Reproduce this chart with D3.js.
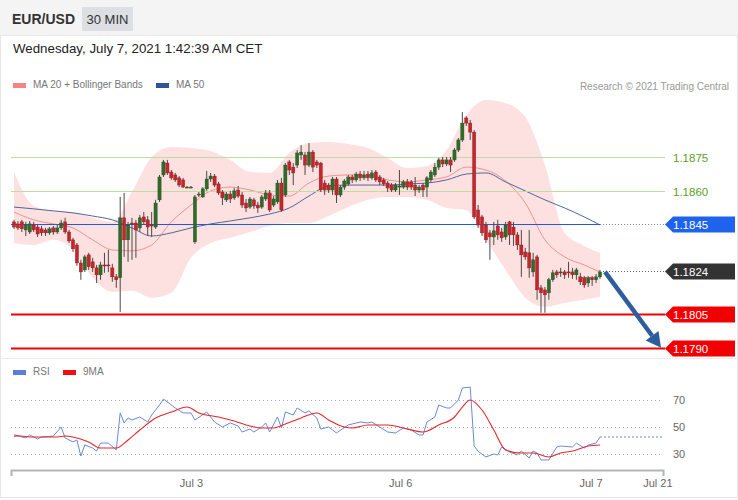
<!DOCTYPE html>
<html>
<head>
<meta charset="utf-8">
<script src="https://cdn.jsdelivr.net/npm/d3@7"></script>
<style>
    body { margin: 0; background: #fff; font-family: "Liberation Sans", Arial, sans-serif; }
    svg text { font-family: "Liberation Sans", Arial, sans-serif; }
</style>
</head>
<body>
<svg id="chart" width="738" height="500"></svg>
<script>
// 30 min candles, EUR/USD
var opens = [1.18461, 1.18452, 1.18461, 1.18425, 1.18416, 1.18447, 1.18438, 1.18430, 1.18425, 1.18412,
    1.18434, 1.18416, 1.18434, 1.18461, 1.18416, 1.18381, 1.18358, 1.18278, 1.18247, 1.18314,
    1.18283, 1.18256, 1.18225, 1.18269, 1.18269, 1.18256, 1.18216, 1.18212, 1.18479, 1.18381,
    1.18456, 1.18456, 1.18434, 1.18483, 1.18470, 1.18447, 1.18438, 1.18559, 1.18670, 1.18723,
    1.18683, 1.18670, 1.18657, 1.18648, 1.18616, 1.18616, 1.18372, 1.18581, 1.18572, 1.18608,
    1.18652, 1.18665, 1.18630, 1.18594, 1.18559, 1.18585, 1.18568, 1.18603, 1.18581, 1.18545,
    1.18527, 1.18559, 1.18536, 1.18527, 1.18563, 1.18590, 1.18536, 1.18550, 1.18634, 1.18581,
    1.18728, 1.18705, 1.18714, 1.18759, 1.18759, 1.18714, 1.18772, 1.18728, 1.18723, 1.18634,
    1.18625, 1.18603, 1.18652, 1.18581, 1.18616, 1.18630, 1.18661, 1.18648, 1.18674, 1.18657,
    1.18674, 1.18657, 1.18683, 1.18661, 1.18648, 1.18634, 1.18625, 1.18603, 1.18616, 1.18616,
    1.18639, 1.18639, 1.18625, 1.18603, 1.18625, 1.18616, 1.18648, 1.18670, 1.18705, 1.18737,
    1.18719, 1.18737, 1.18737, 1.18781, 1.18826, 1.18924, 1.18901, 1.18861, 1.18514, 1.18483,
    1.18447, 1.18412, 1.18394, 1.18443, 1.18416, 1.18394, 1.18461, 1.18438, 1.18403, 1.18358,
    1.18327, 1.18323, 1.18238, 1.18305, 1.18167, 1.18158, 1.18145, 1.18203, 1.18238, 1.18234,
    1.18238, 1.18238, 1.18238, 1.18225, 1.18216, 1.18212, 1.18189, 1.18212, 1.18203, 1.18216]
var highs = [1.18470, 1.18465, 1.18470, 1.18461, 1.18465, 1.18461, 1.18447, 1.18443, 1.18434, 1.18438,
    1.18443, 1.18447, 1.18470, 1.18479, 1.18425, 1.18390, 1.18367, 1.18292, 1.18314, 1.18323,
    1.18301, 1.18269, 1.18283, 1.18323, 1.18336, 1.18274, 1.18229, 1.18572, 1.18590, 1.18461,
    1.18479, 1.18470, 1.18492, 1.18505, 1.18487, 1.18505, 1.18559, 1.18670, 1.18737, 1.18737,
    1.18692, 1.18679, 1.18665, 1.18657, 1.18621, 1.18621, 1.18581, 1.18594, 1.18616, 1.18688,
    1.18679, 1.18674, 1.18639, 1.18603, 1.18594, 1.18599, 1.18612, 1.18621, 1.18594, 1.18563,
    1.18572, 1.18568, 1.18550, 1.18581, 1.18603, 1.18603, 1.18576, 1.18648, 1.18657, 1.18723,
    1.18737, 1.18723, 1.18781, 1.18803, 1.18772, 1.18812, 1.18781, 1.18737, 1.18728, 1.18648,
    1.18634, 1.18661, 1.18661, 1.18625, 1.18652, 1.18670, 1.18670, 1.18683, 1.18688, 1.18688,
    1.18688, 1.18692, 1.18692, 1.18670, 1.18657, 1.18643, 1.18634, 1.18634, 1.18692, 1.18648,
    1.18652, 1.18648, 1.18661, 1.18625, 1.18634, 1.18665, 1.18692, 1.18723, 1.18746, 1.18750,
    1.18750, 1.18750, 1.18790, 1.18835, 1.18950, 1.18932, 1.18915, 1.18870, 1.18536, 1.18492,
    1.18461, 1.18425, 1.18461, 1.18470, 1.18434, 1.18461, 1.18465, 1.18461, 1.18416, 1.18425,
    1.18345, 1.18425, 1.18323, 1.18314, 1.18180, 1.18171, 1.18212, 1.18247, 1.18247, 1.18256,
    1.18247, 1.18283, 1.18256, 1.18256, 1.18234, 1.18220, 1.18220, 1.18220, 1.18229, 1.18247]
var lows = [1.18430, 1.18425, 1.18416, 1.18398, 1.18407, 1.18416, 1.18394, 1.18398, 1.18398, 1.18403,
    1.18403, 1.18407, 1.18425, 1.18407, 1.18367, 1.18327, 1.18265, 1.18203, 1.18238, 1.18247,
    1.18238, 1.18189, 1.18203, 1.18234, 1.18238, 1.18194, 1.18167, 1.18060, 1.18305, 1.18283,
    1.18292, 1.18301, 1.18416, 1.18447, 1.18398, 1.18394, 1.18430, 1.18550, 1.18661, 1.18670,
    1.18648, 1.18639, 1.18616, 1.18612, 1.18612, 1.18612, 1.18363, 1.18572, 1.18568, 1.18599,
    1.18639, 1.18616, 1.18581, 1.18536, 1.18550, 1.18545, 1.18559, 1.18568, 1.18523, 1.18505,
    1.18519, 1.18519, 1.18501, 1.18519, 1.18554, 1.18505, 1.18527, 1.18541, 1.18505, 1.18572,
    1.18670, 1.18625, 1.18701, 1.18737, 1.18670, 1.18705, 1.18683, 1.18701, 1.18594, 1.18581,
    1.18590, 1.18581, 1.18545, 1.18572, 1.18603, 1.18621, 1.18634, 1.18639, 1.18643, 1.18648,
    1.18643, 1.18648, 1.18639, 1.18625, 1.18621, 1.18594, 1.18594, 1.18594, 1.18581, 1.18608,
    1.18603, 1.18603, 1.18576, 1.18590, 1.18572, 1.18572, 1.18639, 1.18661, 1.18692, 1.18705,
    1.18710, 1.18683, 1.18728, 1.18772, 1.18817, 1.18888, 1.18826, 1.18474, 1.18434, 1.18398,
    1.18367, 1.18292, 1.18358, 1.18381, 1.18372, 1.18381, 1.18358, 1.18354, 1.18336, 1.18216,
    1.18292, 1.18212, 1.18216, 1.18114, 1.18056, 1.18056, 1.18114, 1.18194, 1.18212, 1.18216,
    1.18207, 1.18212, 1.18207, 1.18203, 1.18180, 1.18167, 1.18171, 1.18176, 1.18189, 1.18207]
var closes = [1.18438, 1.18434, 1.18430, 1.18447, 1.18452, 1.18425, 1.18407, 1.18412, 1.18412, 1.18430,
    1.18416, 1.18434, 1.18456, 1.18416, 1.18376, 1.18341, 1.18278, 1.18238, 1.18305, 1.18261,
    1.18256, 1.18225, 1.18269, 1.18265, 1.18267, 1.18216, 1.18203, 1.18479, 1.18381, 1.18447,
    1.18452, 1.18425, 1.18479, 1.18461, 1.18438, 1.18443, 1.18545, 1.18661, 1.18728, 1.18679,
    1.18657, 1.18648, 1.18625, 1.18616, 1.18616, 1.18616, 1.18572, 1.18585, 1.18608, 1.18652,
    1.18665, 1.18625, 1.18590, 1.18568, 1.18585, 1.18563, 1.18599, 1.18576, 1.18536, 1.18523,
    1.18563, 1.18532, 1.18523, 1.18572, 1.18590, 1.18514, 1.18563, 1.18634, 1.18514, 1.18714,
    1.18692, 1.18679, 1.18768, 1.18772, 1.18714, 1.18772, 1.18705, 1.18714, 1.18603, 1.18603,
    1.18603, 1.18652, 1.18581, 1.18616, 1.18643, 1.18661, 1.18648, 1.18674, 1.18657, 1.18670,
    1.18657, 1.18679, 1.18648, 1.18639, 1.18630, 1.18612, 1.18603, 1.18625, 1.18621, 1.18639,
    1.18616, 1.18616, 1.18603, 1.18616, 1.18603, 1.18657, 1.18683, 1.18705, 1.18737, 1.18719,
    1.18737, 1.18714, 1.18781, 1.18826, 1.18901, 1.18901, 1.18861, 1.18483, 1.18447, 1.18412,
    1.18381, 1.18394, 1.18421, 1.18403, 1.18390, 1.18447, 1.18403, 1.18403, 1.18358, 1.18314,
    1.18305, 1.18256, 1.18292, 1.18158, 1.18145, 1.18136, 1.18203, 1.18234, 1.18225, 1.18238,
    1.18225, 1.18234, 1.18225, 1.18247, 1.18194, 1.18180, 1.18212, 1.18203, 1.18216, 1.18238]

var bandAt = [0, 5, 10, 15, 20, 25, 30, 35, 40, 45, 50, 55, 60, 65, 70, 75, 80, 85, 90, 95,
    100, 105, 110, 115, 120, 125, 130, 135, 140, 145, 149]
var upperBand = [1.18683, 1.18532, 1.18510, 1.18505, 1.18479, 1.18461, 1.18594, 1.18750, 1.18795, 1.18790,
    1.18777, 1.18737, 1.18683, 1.18679, 1.18768, 1.18812, 1.18817, 1.18808, 1.18790, 1.18746,
    1.18701, 1.18710, 1.18781, 1.18937, 1.19004, 1.18990, 1.18928, 1.18714, 1.18412, 1.18354, 1.18323]
var lowerBand = [1.18367, 1.18358, 1.18381, 1.18336, 1.18212, 1.18149, 1.18154, 1.18123, 1.18145, 1.18301,
    1.18367, 1.18390, 1.18416, 1.18443, 1.18456, 1.18456, 1.18487, 1.18527, 1.18559, 1.18572,
    1.18572, 1.18559, 1.18523, 1.18514, 1.18381, 1.18247, 1.18123, 1.18083, 1.18100, 1.18114, 1.18127]
var ma20 = [1.18505, 1.18470, 1.18452, 1.18434, 1.18381, 1.18336, 1.18332, 1.18358, 1.18461, 1.18536,
    1.18599, 1.18616, 1.18603, 1.18581, 1.18576, 1.18634, 1.18665, 1.18670, 1.18670, 1.18648,
    1.18639, 1.18648, 1.18661, 1.18705, 1.18692, 1.18643, 1.18545, 1.18381, 1.18305, 1.18269, 1.18238]
var ma50 = [1.18527, 1.18519, 1.18510, 1.18501, 1.18487, 1.18470, 1.18434, 1.18398, 1.18412, 1.18434,
    1.18452, 1.18465, 1.18479, 1.18496, 1.18523, 1.18576, 1.18621, 1.18625, 1.18625, 1.18625,
    1.18630, 1.18634, 1.18648, 1.18674, 1.18679, 1.18639, 1.18599, 1.18559, 1.18523, 1.18483, 1.18447]

var rsiAt = [0, 1, 3, 4, 6, 7, 10, 12, 13, 15, 16, 17, 18, 20, 21, 22, 24, 26, 27, 28,
    29, 30, 32, 34, 35, 37, 38, 40, 41, 43, 45, 46, 49, 51, 53, 55, 57, 58, 60, 61,
    63, 64, 65, 67, 68, 69, 71, 72, 74, 75, 77, 78, 80, 81, 82, 85, 88, 90, 91, 93,
    95, 97, 99, 101, 103, 104, 105, 107, 108, 110, 111, 113, 114, 116, 117, 118, 120, 122, 123, 124,
    126, 128, 129, 131, 132, 133, 134, 136, 138, 139, 142, 143, 145, 146, 148, 149]
var rsiValues = [42.8, 43.3, 41.9, 44.1, 41.1, 42.6, 43.3, 50, 41.9, 38.9, 40.4, 28.5, 36.7, 34.4, 32.2, 38.1, 38.1, 33, 60.4, 53,
    56.7, 55.2, 57.4, 53.7, 58.9, 66.3, 70.7, 66.3, 64.1, 60.4, 60.4, 55.2, 61.1, 53.7, 50, 53, 50.7, 46.3, 48.5, 46.3,
    50, 53, 46.3, 57.4, 49.3, 61.1, 58.9, 64.1, 60.4, 61.9, 56.7, 48.5, 50, 47.8, 45.6, 51.5, 53.7, 53, 53.7, 50,
    46.3, 45.6, 49.3, 47.8, 44.1, 44.1, 53.7, 57.4, 66.3, 64.1, 64.1, 70, 78.9, 79.6, 36, 32, 27.8, 30, 29.3, 35.2,
    31.5, 29.3, 32.2, 27, 32.2, 30.7, 25.6, 25.6, 35.2, 35.9, 35.2, 38.1, 34.4, 36.7, 38.1, 42.6]
var maAt = [0, 5, 11, 13, 15, 19, 22, 26, 29, 32, 36, 40, 44, 47, 52, 56, 59, 63, 66, 69,
    73, 77, 80, 84, 86, 90, 95, 99, 104, 108, 112, 114, 116, 119, 122, 125, 129, 132, 136, 139,
    142, 146, 149]
var ma9Values = [44.1, 42.6, 42.6, 43.3, 42.6, 38.9, 34.4, 34.4, 40.4, 47.8, 56.7, 61.1, 64.8, 60.4, 57.4, 54.4, 51.5, 49.3, 49.3, 52.2,
    56.7, 60.4, 55.2, 50, 49.3, 51.5, 51.5, 49.3, 46.3, 51.5, 57.4, 64.8, 70, 62.6, 47.8, 33, 30.7, 30.7, 27.8, 30.7,
    32.2, 35.9, 36.7]

var levels = [1.1875, 1.1860, 1.1845, 1.1824, 1.1805, 1.1790]
var levelLabels = ['1.1875', '1.1860', '1.1845', '1.1824', '1.1805', '1.1790']
var rsiTicks = [70, 50, 30]
var xTickAt = [45, 98.2, 146.6, 163.6]
var xTickLabels = ['Jul 3', 'Jul 6', 'Jul 7', 'Jul 21']

var svg = d3.select('#chart')
var x = d3.scaleLinear().domain([0, closes.length - 1]).range([14, 600])
var y = d3.scaleLinear().domain([1.1790, 1.1875]).range([347.8, 157])
var ry = d3.scaleLinear().domain([30, 70]).range([454, 400])
var last = closes.length - 1

// header
svg.append('rect').attr('x', 0).attr('y', 0).attr('width', 738).attr('height', 35).attr('fill', '#f4f4f4')
svg.append('rect').attr('x', 0.5).attr('y', 35.5).attr('width', 737).attr('height', 462)
    .attr('fill', 'none').attr('stroke', '#e6e6e6')
svg.append('line').attr('x1', 0).attr('x2', 738).attr('y1', 358.5).attr('y2', 358.5).attr('stroke', '#ebebeb')
svg.append('text').attr('x', 12).attr('y', 24).attr('font-size', 14).attr('font-weight', 'bold')
    .attr('fill', '#333').text('EUR/USD')
svg.append('rect').attr('x', 82).attr('y', 7).attr('width', 51).attr('height', 24).attr('fill', '#dcdfe4')
svg.append('text').attr('x', 107.5).attr('y', 24).attr('text-anchor', 'middle').attr('font-size', 13)
    .attr('fill', '#333').text('30 MIN')
svg.append('text').attr('x', 13).attr('y', 53).attr('font-size', 13.3).attr('fill', '#222')
    .text('Wednesday, July 7, 2021 1:42:39 AM CET')

function legendItem(lx, ly, color, label) {
    svg.append('rect').attr('x', lx).attr('y', ly - 4).attr('width', 13).attr('height', 5).attr('fill', color)
    svg.append('text').attr('x', lx + 20).attr('y', ly + 1).attr('font-size', 10).attr('fill', '#777').text(label)
}
legendItem(13, 87, '#f58585', 'MA 20 + Bollinger Bands')
legendItem(156, 87, '#2f5597', 'MA 50')
svg.append('text').attr('x', 729).attr('y', 90).attr('text-anchor', 'end').attr('font-size', 10)
    .attr('fill', '#999').text('Research \u00a9 2021 Trading Central')

// bollinger band + moving averages
var band = d3.area()
    .x(function (d, i) { return x(bandAt[i]) })
    .y0(function (d, i) { return y(lowerBand[i]) })
    .y1(function (d, i) { return y(upperBand[i]) })
    .curve(d3.curveMonotoneX)
svg.append('path').datum(bandAt).attr('d', band).attr('fill', '#fde1e1')

function maLine(values) {
    return d3.line()
        .x(function (d, i) { return x(bandAt[i]) })
        .y(function (d) { return y(d) })
        .curve(d3.curveMonotoneX)(values)
}
svg.append('path').attr('d', maLine(ma20)).attr('fill', 'none').attr('stroke', '#f29090').attr('stroke-width', 1)
svg.append('path').attr('d', maLine(ma50)).attr('fill', 'none').attr('stroke', '#50669c').attr('stroke-width', 1)

// level lines
var levelStyle = {
    '1.1875': {line: '#bedda4', w: 1, text: '#5e9e25', tag: null, end: 665},
    '1.1860': {line: '#bedda4', w: 1, text: '#5e9e25', tag: null, end: 665},
    '1.1845': {line: '#2458d8', w: 1, text: '#fff', tag: '#1f62ee', end: x(last)},
    '1.1824': {line: null, w: 1, text: '#fff', tag: '#333', end: x(last) + 3},
    '1.1805': {line: '#f00000', w: 2, text: '#fff', tag: '#f00000', end: 665},
    '1.1790': {line: '#f00000', w: 2, text: '#fff', tag: '#f00000', end: 665}
}
var lv = svg.append('g')
levels.forEach(function (p, i) {
    var st = levelStyle[levelLabels[i]]
    var ly = Math.round(y(p)) + 0.5
    if (st.line) {
        lv.append('line').attr('x1', 11).attr('x2', st.end).attr('y1', ly).attr('y2', ly)
            .attr('stroke', st.line).attr('stroke-width', st.w)
    }
    if (st.end < 665) {
        lv.append('line').attr('x1', st.end).attr('x2', 665).attr('y1', ly).attr('y2', ly)
            .attr('stroke', st.line ? '#6d87c9' : '#666').attr('stroke-dasharray', '1,2')
    }
    if (st.tag) {
        lv.append('path').attr('d', 'M665,' + ly + 'L673,' + (ly - 8) + 'H735V' + (ly + 8) + 'H673Z')
            .attr('fill', st.tag)
    }
    lv.append('text').attr('x', 673).attr('y', ly + 4).attr('font-size', 11.5).attr('fill', st.text)
        .text(levelLabels[i])
})

// candles
var idx = d3.range(closes.length)
var cg = svg.append('g')
cg.selectAll('.wick').data(idx).enter().append('line').attr('class', 'wick')
    .attr('x1', function (i) { return x(i) }).attr('x2', function (i) { return x(i) })
    .attr('y1', function (i) { return y(highs[i]) }).attr('y2', function (i) { return y(lows[i]) })
    .attr('stroke', '#4a4a4a').attr('stroke-width', 1)
cg.selectAll('.body').data(idx).enter().append('rect').attr('class', 'body')
    .attr('x', function (i) { return x(i) - 1.6 })
    .attr('width', 3.2)
    .attr('y', function (i) { return y(Math.max(opens[i], closes[i])) })
    .attr('height', function (i) { return Math.max(1, Math.abs(y(opens[i]) - y(closes[i]))) })
    .attr('fill', function (i) { return closes[i] >= opens[i] ? '#2f6b2a' : '#c4262b' })
    .attr('stroke', function (i) { return closes[i] >= opens[i] ? '#234d1f' : '#8e1c20' })
    .attr('stroke-width', 0.4)

// forecast arrow
var ax0 = x(last) + 5, ay0 = y(closes[last])
var ax1 = 661, ay1 = y(levels[5])
var ang = Math.atan2(ay1 - ay0, ax1 - ax0)
var hx = ax1 - 15 * Math.cos(ang), hy = ay1 - 15 * Math.sin(ang)
svg.append('line').attr('x1', ax0).attr('y1', ay0).attr('x2', hx).attr('y2', hy)
    .attr('stroke', '#2e5d9c').attr('stroke-width', 4.5)
svg.append('path')
    .attr('d', 'M' + ax1 + ',' + ay1 +
        'L' + (hx + 8 * Math.sin(ang)) + ',' + (hy - 8 * Math.cos(ang)) +
        'L' + (hx - 8 * Math.sin(ang)) + ',' + (hy + 8 * Math.cos(ang)) + 'Z')
    .attr('fill', '#2e5d9c')

// RSI panel
legendItem(13, 374, '#5b7fd8', 'RSI')
legendItem(63, 374, '#ee1111', '9MA')
rsiTicks.forEach(function (t) {
    svg.append('line').attr('x1', 11).attr('x2', 663).attr('y1', ry(t) + 0.5).attr('y2', ry(t) + 0.5)
        .attr('stroke', '#aaa').attr('stroke-dasharray', '1,3')
    svg.append('text').attr('x', 673).attr('y', ry(t) + 4).attr('font-size', 11).attr('fill', '#666').text(t)
})
var rsiLine = d3.line()
    .x(function (d, i) { return x(rsiAt[i]) })
    .y(function (d) { return ry(d) })
svg.append('path').attr('d', rsiLine(rsiValues)).attr('fill', 'none').attr('stroke', '#6a8ad8').attr('stroke-width', 1)
svg.append('line').attr('x1', x(last)).attr('x2', 663)
    .attr('y1', ry(rsiValues[rsiValues.length - 1])).attr('y2', ry(rsiValues[rsiValues.length - 1]))
    .attr('stroke', '#6a8ad8').attr('stroke-dasharray', '2,2')
var ma9Line = d3.line()
    .x(function (d, i) { return x(maAt[i]) })
    .y(function (d) { return ry(d) })
    .curve(d3.curveMonotoneX)
svg.append('path').attr('d', ma9Line(ma9Values)).attr('fill', 'none').attr('stroke', '#e8262a').attr('stroke-width', 1.1)

// time axis
var axisScale = x.copy().domain([x.invert(11), x.invert(663)]).range([11, 663])
var xAxis = svg.append('g').attr('transform', 'translate(0,470)')
    .call(d3.axisBottom(axisScale).tickValues(xTickAt)
        .tickFormat(function (d, i) { return xTickLabels[i] })
        .tickSizeInner(0).tickSizeOuter(6).tickPadding(9))
xAxis.select('.domain').attr('stroke', '#b5b5b5').attr('stroke-width', 2)
xAxis.selectAll('text').attr('font-size', 11).attr('fill', '#666')
    .style('font-family', '"Liberation Sans", Arial, sans-serif')
</script>
</body>
</html>
